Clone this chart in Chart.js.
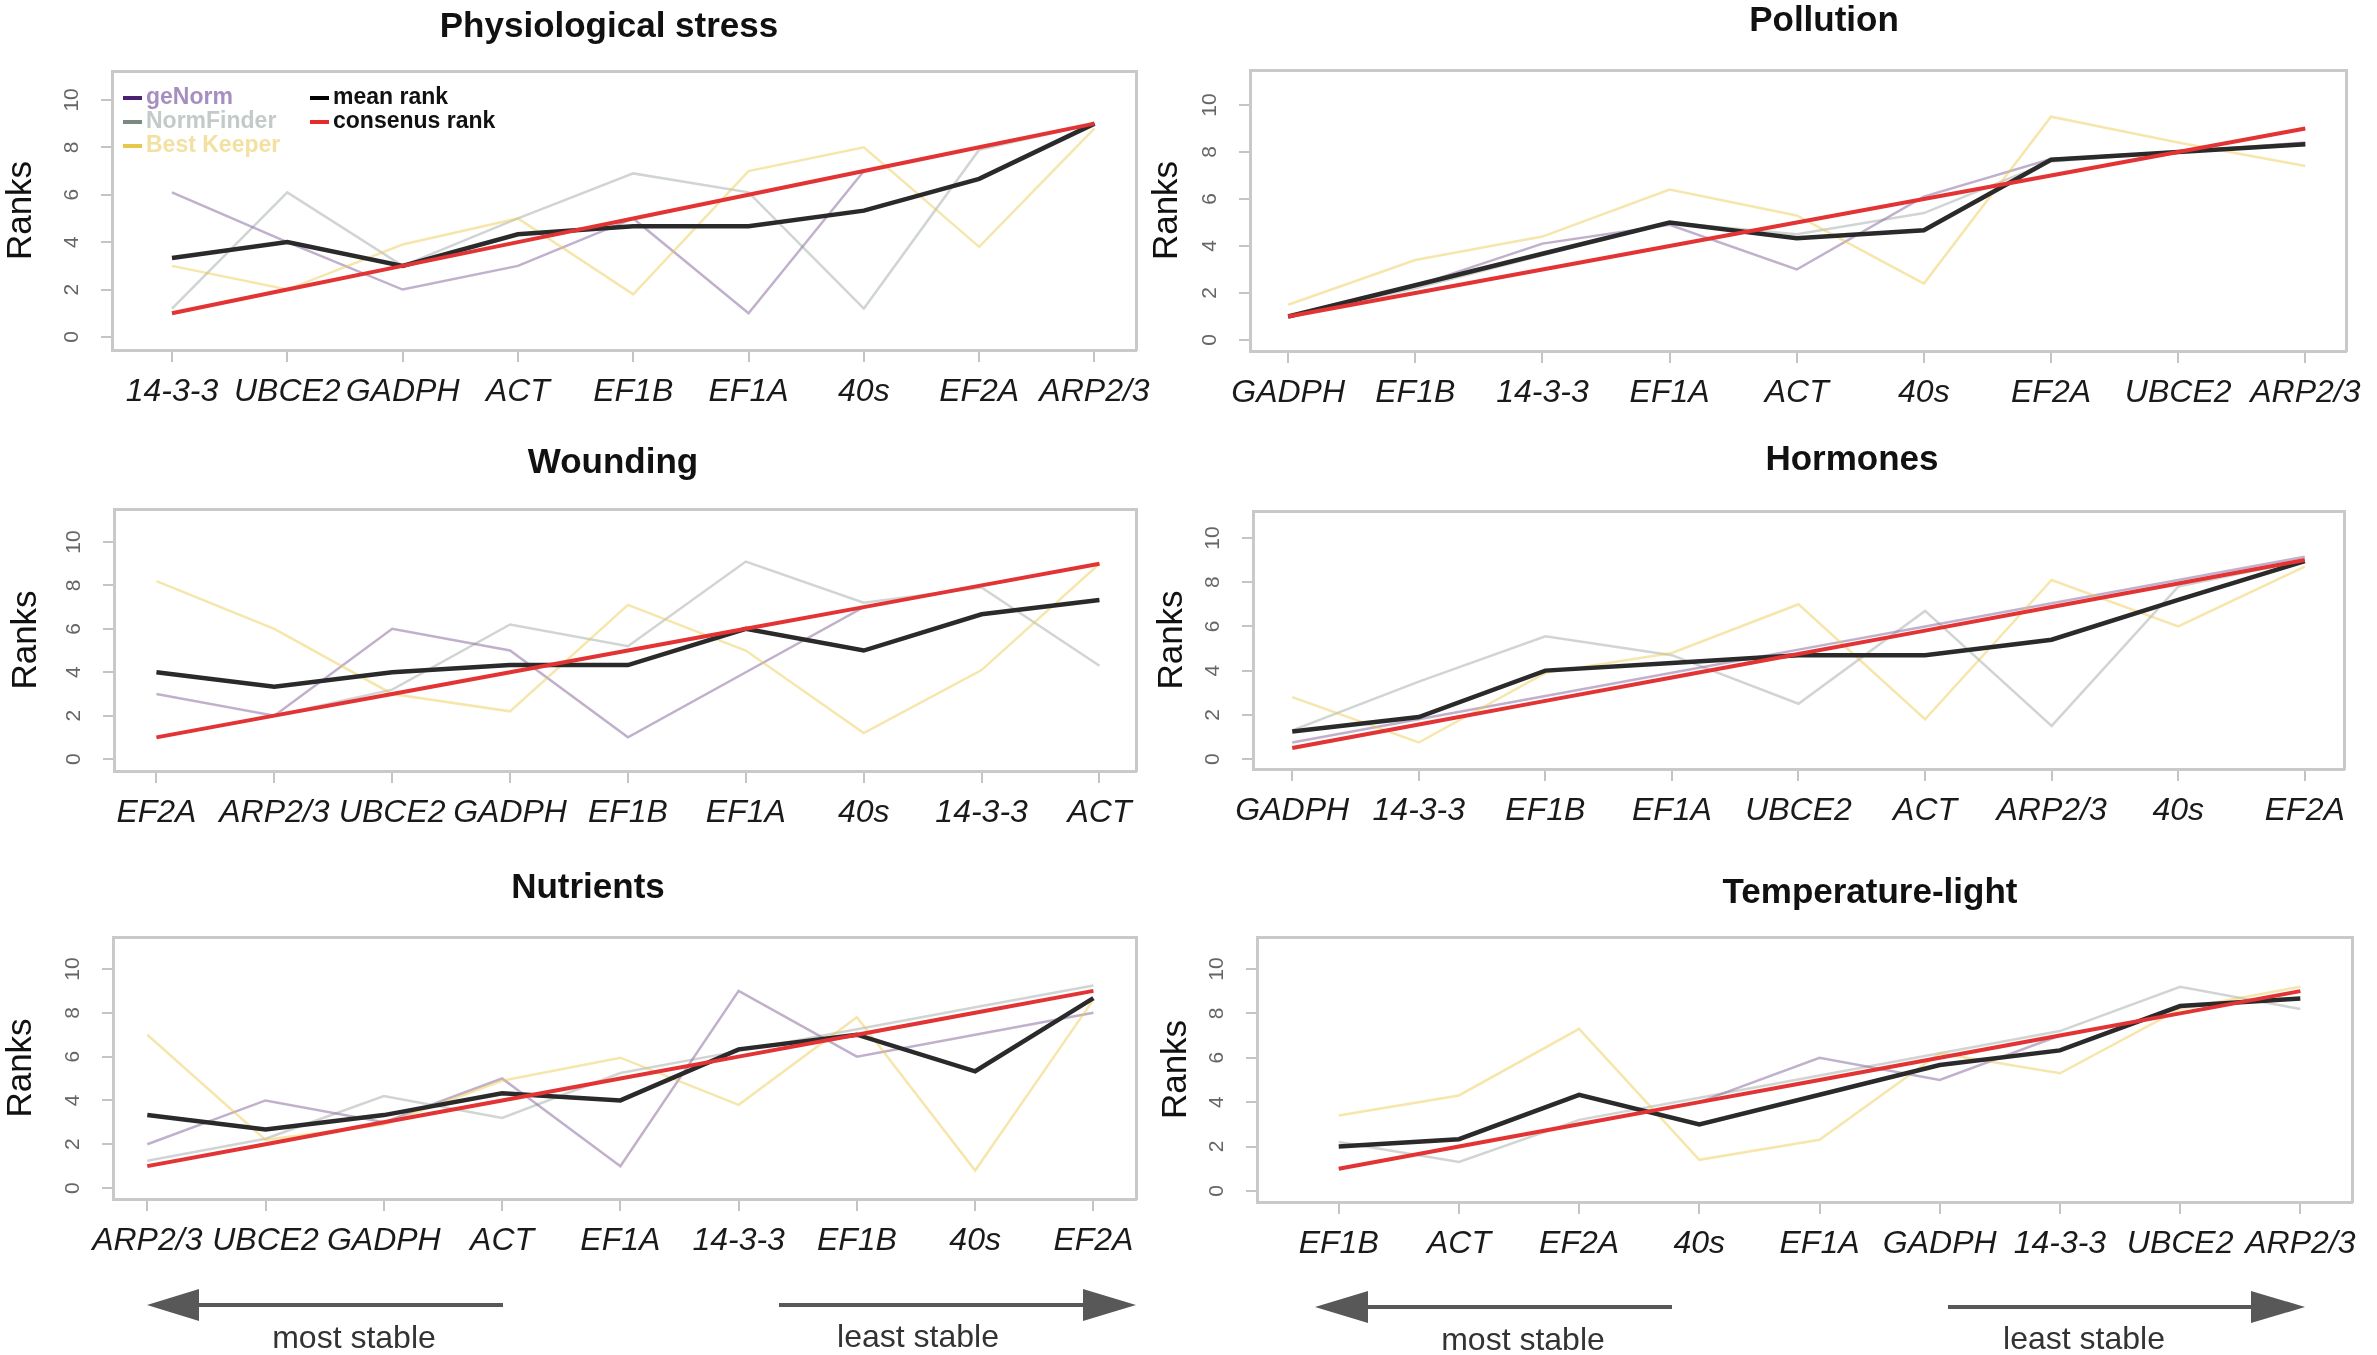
<!DOCTYPE html>
<html>
<head>
<meta charset="utf-8">
<script src="https://cdn.jsdelivr.net/npm/chart.js@4.4.1/dist/chart.umd.min.js"></script>
<style>
html, body { margin: 0; padding: 0; background: #fff; }
#page { position: relative; width: 2377px; height: 1355px; overflow: hidden; background: #fff; }
#page canvas { position: absolute; }
#arrows { position: absolute; left: 0; top: 0; }
#arrows text { font-family: "Liberation Sans", Arial, sans-serif; font-size: 32px; fill: #333; text-anchor: middle; }
</style>
</head>
<body>
<div id="page">
<canvas id="physio"></canvas>
<canvas id="pollution"></canvas>
<canvas id="wounding"></canvas>
<canvas id="hormones"></canvas>
<canvas id="nutrients"></canvas>
<canvas id="templight"></canvas>
<svg id="arrows" width="2377" height="1355">
  <g stroke="#585858" stroke-width="4" fill="#585858">
    <line x1="195" y1="1305" x2="503" y2="1305"/>
    <polygon points="147,1305 199,1289 199,1321" stroke="none"/>
    <line x1="779" y1="1305" x2="1088" y2="1305"/>
    <polygon points="1136,1305 1083,1289 1083,1321" stroke="none"/>
    <line x1="1364" y1="1307" x2="1672" y2="1307"/>
    <polygon points="1315,1307 1368,1291 1368,1323" stroke="none"/>
    <line x1="1948" y1="1307" x2="2256" y2="1307"/>
    <polygon points="2305,1307 2251,1291 2251,1323" stroke="none"/>
  </g>
  <text x="354" y="1348">most stable</text>
  <text x="918" y="1347">least stable</text>
  <text x="1523" y="1350">most stable</text>
  <text x="2084" y="1349">least stable</text>
</svg>
</div>
<script>
const fontFamily = '"Liberation Sans", Arial, sans-serif'
Chart.defaults.font.family = fontFamily

const rankTicks = [0, 2, 4, 6, 8, 10]

// Physiological stress
const physioGenes = ["14-3-3", "UBCE2", "GADPH", "ACT", "EF1B", "EF1A", "40s", "EF2A", "ARP2/3"]
const physioGeNorm = [6.1, 4, 2, 3, 5, 1, 7, 8, 9]
const physioNormFinder = [1.2, 6.1, 3, 5, 6.9, 6.1, 1.2, 7.9, 9]
const physioBestKeeper = [3, 2, 3.9, 5, 1.8, 7, 8, 3.8, 8.8]
const physioMean = [3.33, 4, 3, 4.33, 4.67, 4.67, 5.33, 6.67, 9]
const physioConsensus = [1, 2, 3, 4, 5, 6, 7, 8, 9]

// Pollution
const pollutionGenes = ["GADPH", "EF1B", "14-3-3", "EF1A", "ACT", "40s", "EF2A", "UBCE2", "ARP2/3"]
const pollutionGeNorm = [1, 2.3, 4.1, 4.9, 3, 6.1, 7.7, 8, 8.4]
const pollutionNormFinder = [1, 2.2, 3.6, 5, 4.5, 5.4, 7.6, 8, 8.3]
const pollutionBestKeeper = [1.5, 3.4, 4.4, 6.4, 5.3, 2.4, 9.5, 8.4, 7.4]
const pollutionMean = [1, 2.33, 3.67, 5, 4.33, 4.67, 7.67, 8, 8.33]
const pollutionConsensus = [1, 2, 3, 4, 5, 6, 7, 8, 9]

// Wounding
const woundingGenes = ["EF2A", "ARP2/3", "UBCE2", "GADPH", "EF1B", "EF1A", "40s", "14-3-3", "ACT"]
const woundingGeNorm = [3, 2, 6, 5, 1, 4, 7, 8, 9]
const woundingNormFinder = [1, 2, 3.2, 6.2, 5.2, 9.1, 7.2, 7.9, 4.3]
const woundingBestKeeper = [8.2, 6, 3, 2.2, 7.1, 5, 1.2, 4.1, 9]
const woundingMean = [4, 3.33, 4, 4.33, 4.33, 6, 5, 6.67, 7.33]
const woundingConsensus = [1, 2, 3, 4, 5, 6, 7, 8, 9]

// Hormones
const hormonesGenes = ["GADPH", "14-3-3", "EF1B", "EF1A", "UBCE2", "ACT", "ARP2/3", "40s", "EF2A"]
const hormonesGeNorm = [0.75, 1.8, 2.85, 3.9, 4.95, 6, 7.05, 8.1, 9.15]
const hormonesNormFinder = [1.3, 3.5, 5.55, 4.7, 2.5, 6.7, 1.5, 7.8, 9]
const hormonesBestKeeper = [2.8, 0.75, 3.9, 4.8, 7, 1.8, 8.1, 6, 8.7]
const hormonesMean = [1.25, 1.9, 4, 4.35, 4.7, 4.7, 5.4, 7.2, 8.95]
const hormonesConsensus = [0.5, 1.56, 2.63, 3.69, 4.75, 5.81, 6.88, 7.94, 9]

// Nutrients
const nutrientsGenes = ["ARP2/3", "UBCE2", "GADPH", "ACT", "EF1A", "14-3-3", "EF1B", "40s", "EF2A"]
const nutrientsGeNorm = [2, 4, 3, 5, 1, 9, 6, 7, 8]
const nutrientsNormFinder = [1.25, 2.25, 4.2, 3.2, 5.25, 6.25, 7.25, 8.25, 9.25]
const nutrientsBestKeeper = [7, 2.2, 2.9, 4.9, 5.95, 3.8, 7.8, 0.8, 8.6]
const nutrientsMean = [3.33, 2.67, 3.33, 4.33, 4, 6.33, 7, 5.33, 8.67]
const nutrientsConsensus = [1, 2, 3, 4, 5, 6, 7, 8, 9]

// Temperature-light
const tempGenes = ["EF1B", "ACT", "EF2A", "40s", "EF1A", "GADPH", "14-3-3", "UBCE2", "ARP2/3"]
const tempGeNorm = [1, 2, 3, 4, 6, 5, 7, 8, 9]
const tempNormFinder = [2.2, 1.3, 3.2, 4.2, 5.2, 6.2, 7.2, 9.2, 8.2]
const tempBestKeeper = [3.4, 4.3, 7.3, 1.4, 2.3, 6.2, 5.3, 8.2, 9.2]
const tempMean = [2, 2.33, 4.33, 3, 4.33, 5.67, 6.33, 8.33, 8.67]
const tempConsensus = [1, 2, 3, 4, 5, 6, 7, 8, 9]

const styles = {
    geNorm: { line: "rgba(75, 30, 110, 0.35)", mark: "#4a2070", text: "#a68fc0", width: 2.5 },
    normFinder: { line: "rgba(120, 135, 130, 0.35)", mark: "#7a8a80", text: "#c3cbc9", width: 2.5 },
    bestKeeper: { line: "rgba(235, 200, 70, 0.45)", mark: "#e8c84a", text: "#f2e1a0", width: 2.5 },
    mean: { line: "#2a2a2a", mark: "#000", text: "#111", width: 4.5 },
    consensus: { line: "#e23434", mark: "#e82a2a", text: "#111", width: 4 }
}

const legendItems = [
    ["geNorm", styles.geNorm],
    ["NormFinder", styles.normFinder],
    ["Best Keeper", styles.bestKeeper],
    ["mean rank", styles.mean],
    ["consenus rank", styles.consensus]
]

const rankLegend = {
    id: "rankLegend",
    afterDatasetsDraw(chart) {
        const { ctx, chartArea: { left, top } } = chart
        ctx.save()
        ctx.font = `bold 23px ${fontFamily}`
        ctx.textBaseline = "middle"
        legendItems.forEach(([label, st], i) => {
            const col = i < 3 ? 0 : 1
            const row = col ? i - 3 : i
            const x = left + (col ? 198 : 11)
            const y = top + 27 + row * 24
            ctx.strokeStyle = st.mark
            ctx.lineWidth = 4
            ctx.beginPath()
            ctx.moveTo(x, y)
            ctx.lineTo(x + 19, y)
            ctx.stroke()
            ctx.fillStyle = st.text
            ctx.fillText(label, x + 23, y)
        })
        ctx.restore()
    }
}

// canvas: [left, top, width, height]; box: plot frame [left, top, right, bottom]
const panels = [
    { id: "physio", title: "Physiological stress", genes: physioGenes, geNorm: physioGeNorm, normFinder: physioNormFinder, bestKeeper: physioBestKeeper, mean: physioMean, consensus: physioConsensus,
      canvas: [0, 0, 1218, 440], box: [112, 71, 1136, 350], titleY: 27, x: [-0.52, 8.36], y: [-0.55, 11.22], legend: true },
    { id: "pollution", title: "Pollution", genes: pollutionGenes, geNorm: pollutionGeNorm, normFinder: pollutionNormFinder, bestKeeper: pollutionBestKeeper, mean: pollutionMean, consensus: pollutionConsensus,
      canvas: [1146, 0, 1356, 440], box: [1250, 70, 2346, 351], titleY: 20, x: [-0.3, 8.32], y: [-0.47, 11.49] },
    { id: "wounding", title: "Wounding", genes: woundingGenes, geNorm: woundingGeNorm, normFinder: woundingNormFinder, bestKeeper: woundingBestKeeper, mean: woundingMean, consensus: woundingConsensus,
      canvas: [5, 420, 1216, 440], box: [114, 509, 1136, 771], titleY: 463, x: [-0.36, 8.31], y: [-0.55, 11.52] },
    { id: "hormones", title: "Hormones", genes: hormonesGenes, geNorm: hormonesGeNorm, normFinder: hormonesNormFinder, bestKeeper: hormonesBestKeeper, mean: hormonesMean, consensus: hormonesConsensus,
      canvas: [1151, 420, 1402, 440], box: [1253, 511, 2344, 769], titleY: 460, x: [-0.31, 8.31], y: [-0.45, 11.22] },
    { id: "nutrients", title: "Nutrients", genes: nutrientsGenes, geNorm: nutrientsGeNorm, normFinder: nutrientsNormFinder, bestKeeper: nutrientsBestKeeper, mean: nutrientsMean, consensus: nutrientsConsensus,
      canvas: [0, 850, 1176, 440], box: [113, 937, 1136, 1199], titleY: 888, x: [-0.29, 8.36], y: [-0.5, 11.46] },
    { id: "templight", title: "Temperature-light", genes: tempGenes, geNorm: tempGeNorm, normFinder: tempNormFinder, bestKeeper: tempBestKeeper, mean: tempMean, consensus: tempConsensus,
      canvas: [1155, 850, 1430, 440], box: [1257, 937, 2352, 1202], titleY: 893, x: [-0.68, 8.43], y: [-0.5, 11.44] }
]

const frameColor = "#c9c9c9"

const makePanel = p => {
    const [cl, ct, cw, ch] = p.canvas
    const [bl, bt, br, bb] = p.box
    const el = document.getElementById(p.id)
    el.width = cw
    el.height = ch
    el.style.left = cl + "px"
    el.style.top = ct + "px"

    const titleSize = 35
    const titleLH = titleSize * 1.2
    const padTop = Math.max(p.titleY - ct - titleLH / 2, 0)
    const padBottom = bt - ct - padTop - titleLH

    const series = [
        ["consenus rank", p.consensus, styles.consensus],
        ["mean rank", p.mean, styles.mean],
        ["Best Keeper", p.bestKeeper, styles.bestKeeper],
        ["NormFinder", p.normFinder, styles.normFinder],
        ["geNorm", p.geNorm, styles.geNorm]
    ]

    const border = { display: true, color: frameColor, width: 3 }

    new Chart(el, {
        type: "line",
        data: {
            datasets: series.map(([label, values, st]) => ({
                label,
                data: values.map((v, i) => ({ x: i, y: v })),
                borderColor: st.line,
                borderWidth: st.width,
                pointRadius: 0,
                tension: 0,
                fill: false
            }))
        },
        options: {
            responsive: false,
            animation: false,
            layout: { padding: 0 },
            scales: {
                x: {
                    type: "linear", position: "bottom", min: p.x[0], max: p.x[1],
                    afterBuildTicks: s => { s.ticks = p.genes.map((_, i) => ({ value: i })) },
                    afterFit: s => { s.height = ct + ch - bb },
                    ticks: {
                        autoSkip: false, maxRotation: 0, minRotation: 0, padding: 11, color: "#1a1a1a",
                        font: { size: 32, style: "italic" },
                        callback: v => p.genes[v]
                    },
                    grid: { drawOnChartArea: false, drawTicks: true, tickLength: 12, color: "#c4c4c4", lineWidth: 2 },
                    border
                },
                x2: {
                    type: "linear", position: "top", min: p.x[0], max: p.x[1],
                    afterFit: s => { s.height = 0 },
                    ticks: { display: false }, grid: { display: false }, border
                },
                y: {
                    type: "linear", position: "left", min: p.y[0], max: p.y[1],
                    afterBuildTicks: s => { s.ticks = rankTicks.map(v => ({ value: v })) },
                    afterFit: s => { s.width = bl - cl },
                    ticks: { minRotation: 90, maxRotation: 90, crossAlign: "center", padding: 17, color: "#666", font: { size: 21 } },
                    grid: { drawOnChartArea: false, drawTicks: true, tickLength: 11, color: "#c4c4c4", lineWidth: 2 },
                    title: { display: true, text: "Ranks", color: "#111", font: { size: 35 }, padding: { top: 0, bottom: 0 } },
                    border
                },
                y2: {
                    type: "linear", position: "right", min: p.y[0], max: p.y[1],
                    afterFit: s => { s.width = cl + cw - br },
                    ticks: { display: false }, grid: { display: false }, border
                }
            },
            plugins: {
                legend: { display: false },
                tooltip: { enabled: false },
                title: {
                    display: true, text: p.title, color: "#111",
                    font: { size: titleSize, weight: "bold" },
                    padding: { top: padTop, bottom: padBottom }
                }
            }
        },
        plugins: p.legend ? [rankLegend] : []
    })
}

panels.forEach(makePanel)
</script>
</body>
</html>
